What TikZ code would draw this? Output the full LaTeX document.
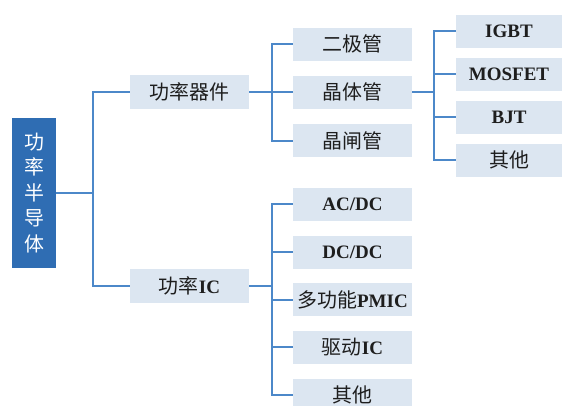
\documentclass[tikz,border=0pt]{standalone}
\usepackage{fontspec}
\setmainfont{Liberation Serif}
\newfontfamily\cjk[Scale=1.05]{Noto Sans CJK SC}
\definecolor{rootblue}{HTML}{2F6DB3}
\definecolor{boxfill}{HTML}{DCE6F1}
\definecolor{linkblue}{HTML}{4C88C9}
\definecolor{txt}{HTML}{1E1E1E}
\tikzset{
  x=1pt,y=-1pt,
  catbox/.style={fill=boxfill, inner sep=0pt, minimum height=33pt, text=txt,
    font=\fontsize{19}{19}\selectfont},
  midbox/.style={catbox, minimum width=119pt},
  leafbox/.style={catbox, minimum width=106pt},
  link/.style={draw=linkblue, line width=2pt},
  rootbox/.style={fill=rootblue, inner sep=0pt, minimum width=44pt, minimum height=150pt,
    text=white, align=center, font=\fontsize{19}{25.5}\selectfont\cjk}
}
\begin{document}
\begin{tikzpicture}
\useasboundingbox (0,0) rectangle (563,405);
\clip (0,0) rectangle (563,405);
\fill[white] (0,0) rectangle (563,405);
% nodes
\node[rootbox] (root) at (34,193) {功\\率\\半\\导\\体};
\node[midbox, minimum height=34pt] (pw) at (189.5,92) {\cjk 功率器件};
\node[midbox, minimum height=34pt] (ic) at (189.5,286) {{\cjk 功率}\textbf{IC}};
\node[midbox] (d1) at (352.5,44) {\cjk 二极管};
\node[midbox] (d2) at (352.5,92) {\cjk 晶体管};
\node[midbox] (d3) at (352.5,140.5) {\cjk 晶闸管};
\node[leafbox] (t1) at (509,31) {\textbf{IGBT}};
\node[leafbox] (t2) at (509,74) {\textbf{MOSFET}};
\node[leafbox] (t3) at (509,117) {\textbf{BJT}};
\node[leafbox] (t4) at (509,160) {\cjk 其他};
\node[midbox] (c1) at (352.5,204) {\textbf{AC/DC}};
\node[midbox] (c2) at (352.5,252) {\textbf{DC/DC}};
\node[midbox] (c3) at (352.5,299.5) {{\cjk 多功能}\textbf{PMIC}};
\node[midbox] (c4) at (352.5,347) {{\cjk 驱动}\textbf{IC}};
\node[midbox] (c5) at (352.5,395) {\cjk 其他};
% junction coordinates
\coordinate (j0) at (93,193);
\coordinate (j1) at (272,92);
\coordinate (j2) at (434,92);
\coordinate (j3) at (272,286);
% connectors
\draw[link] (root.east) -- (j0);
\draw[link] (pw.west) -- (pw.west -| j0) -- (ic.west -| j0) -- (ic.west);
\draw[link] (pw.east) -- (j1);
\draw[link] (d1.west) -- (d1.west -| j1) -- (d3.west -| j1) -- (d3.west);
\draw[link] (d2.west) -- (j1);
\draw[link] (d2.east) -- (j2);
\draw[link] (t1.west) -- (t1.west -| j2) -- (t4.west -| j2) -- (t4.west);
\draw[link] (t2.west) -- (t2.west -| j2);
\draw[link] (t3.west) -- (t3.west -| j2);
\draw[link] (ic.east) -- (j3);
\draw[link] (c1.west) -- (c1.west -| j3) -- (c5.west -| j3) -- (c5.west);
\draw[link] (c2.west) -- (c2.west -| j3);
\draw[link] (c3.west) -- (c3.west -| j3);
\draw[link] (c4.west) -- (c4.west -| j3);
\end{tikzpicture}
\end{document}
